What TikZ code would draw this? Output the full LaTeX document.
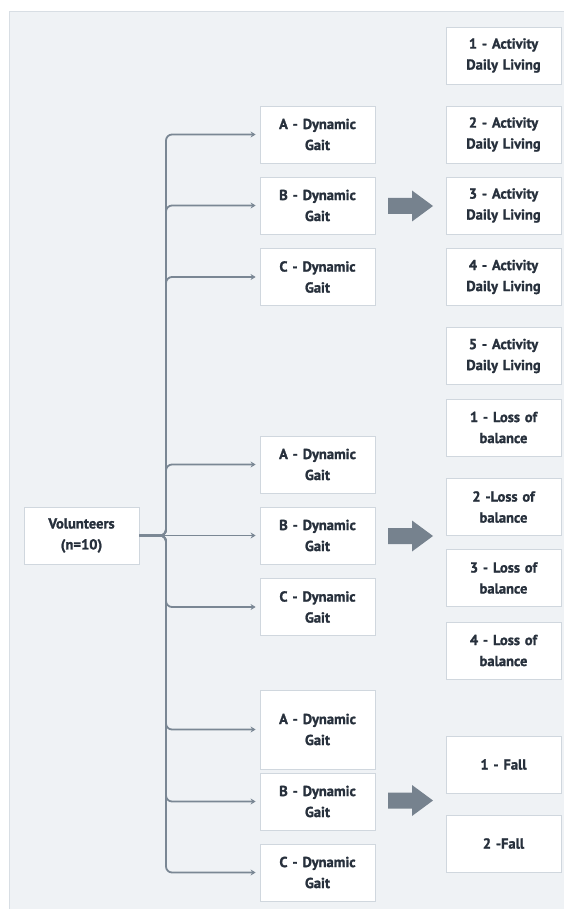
\documentclass[tikz,border=0pt]{standalone}
\usepackage{fontspec}
\setmainfont{PT Sans}[BoldFeatures={FakeBold=1.3}]
\usetikzlibrary{arrows.meta}
\definecolor{panel}{HTML}{EFF2F5}
\definecolor{panelline}{HTML}{D8DEE4}
\definecolor{boxline}{HTML}{D0D7DE}
\definecolor{txt}{HTML}{27303C}
\definecolor{connc}{HTML}{7A8794}
\definecolor{barrow}{HTML}{76828E}
\begin{document}
\begin{tikzpicture}[x=1pt,y=-1pt,
  box/.style={draw=boxline, line width=0.8pt, fill=white, minimum width=115pt,
    minimum height=57pt, text width=112pt, align=center, inner sep=0pt,
    font=\fontsize{14.5}{21}\selectfont\bfseries, text=txt},
  link/.style={draw=connc, line width=1.8pt, rounded corners=6pt,
    -{Stealth[length=5pt,width=6pt]}, shorten >=4pt},
  fat/.style={fill=barrow}]
\useasboundingbox (0,0) rectangle (564,909);
\fill[white] (0,0) rectangle (564,909);
\fill[panel] (9,12) rectangle (564,909);
\draw[panelline, line width=1pt] (9,909) -- (9,12) -- (564,12);

% right column
\node[box] (r1) at (503.5,55.5) {1 - Activity\\Daily Living};
\node[box] (r2) at (503.5,134.5) {2 - Activity\\Daily Living};
\node[box] (r3) at (503.5,205.5) {3 - Activity\\Daily Living};
\node[box] (r4) at (503.5,277) {4 - Activity\\Daily Living};
\node[box] (r5) at (503.5,356) {5 - Activity\\Daily Living};
\node[box] (l1) at (503.5,427.5) {1 - Loss of\\balance};
\node[box] (l2) at (503.5,507) {2 -Loss of\\balance};
\node[box] (l3) at (503.5,578) {3 - Loss of\\balance};
\node[box] (l4) at (503.5,650.5) {4 - Loss of\\balance};
\node[box] (f1) at (503.5,764.5) {1 - Fall};
\node[box] (f2) at (503.5,843.5) {2 -Fall};

% middle column
\node[box] (a1) at (317.5,134.5) {A - Dynamic\\Gait};
\node[box] (b1) at (317.5,205.5) {B - Dynamic\\Gait};
\node[box] (c1) at (317.5,277) {C - Dynamic\\Gait};
\node[box] (a2) at (317.5,464.5) {A - Dynamic\\Gait};
\node[box] (b2) at (317.5,535.5) {B - Dynamic\\Gait};
\node[box] (c2) at (317.5,607) {C - Dynamic\\Gait};
\node[box, minimum height=79pt] (a3) at (317.5,729.5) {A - Dynamic\\Gait};
\node[box] (b3) at (317.5,801.5) {B - Dynamic\\Gait};
\node[box] (c3) at (317.5,872.5) {C - Dynamic\\Gait};

% volunteers
\node[box] (vol) at (81.5,535.5) {Volunteers\\(n=10)};

% connectors
\coordinate (J) at (166,535.5);
\foreach \n in {a1,b1,c1,a2,c2,a3,b3,c3}
  \draw[link] (vol.east) -- (J) |- (\n.west);
\draw[link] (vol.east) -- (b2.west);

% block arrows
\foreach \c in {206,536,800.5}
  \fill[fat] (388,\c-8) -- (412,\c-8) -- (412,\c-15.5) -- (433,\c)
    -- (412,\c+15.5) -- (412,\c+8) -- (388,\c+8) -- cycle;
\end{tikzpicture}
\end{document}
